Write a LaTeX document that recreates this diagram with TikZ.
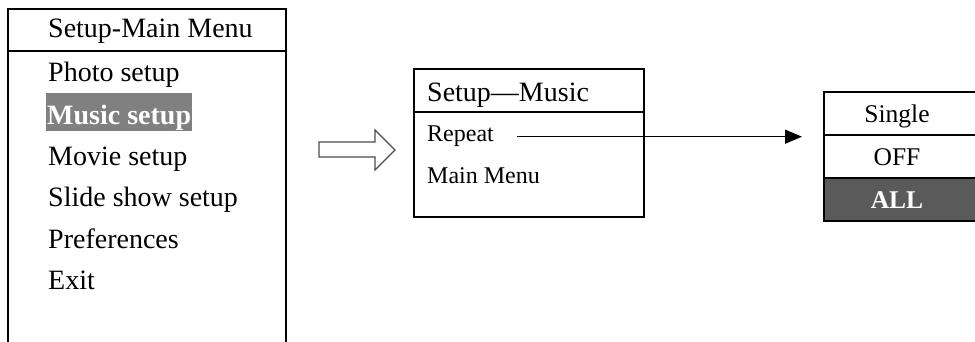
\documentclass[tikz,border=0pt]{standalone}
\usepackage{fontspec}
\setmainfont{Liberation Serif}
\usetikzlibrary{positioning, arrows.meta}
\definecolor{selgray}{HTML}{808080}
\definecolor{allgray}{HTML}{5A5A5A}
\tikzstyle{menubox} = [rectangle, draw, line width=1.6pt, anchor=north west,
                 inner sep=0pt]
\tikzstyle{rule} = [line width=1.6pt, draw]
\tikzset{
	item/.style={anchor=base west, inner sep=0pt, font=\fontsize{28}{30}\selectfont},
	subitem/.style={anchor=base west, inner sep=0pt, font=\fontsize{24}{26}\selectfont},
	option/.style={anchor=base, inner sep=0pt, font=\fontsize{25.5}{27}\selectfont},
	highlight/.style={fill=selgray, text=white, inner xsep=1pt,
		text height=32pt, text depth=6pt},
	pointer/.style={line width=1.5pt, -{Triangle[length=17pt, width=14pt]}},
}

\begin{document}
\begin{tikzpicture}[x=1pt, y=-1pt]

\useasboundingbox (0,0) rectangle (975,342);
\clip (0,0) rectangle (975,342);

% main menu
\node [menubox, minimum width=278pt, minimum height=370pt] (mainbox) at (7,8) {};
\path [rule] (7,51) -- (287,51);
\node [item] (maintitle) at (48,38) {Setup-Main Menu};
\foreach \y/\name/\label in {82/photo/Photo setup, 165/movie/Movie setup,
	206.5/slide/Slide show setup, 248/prefs/Preferences, 289.5/exit/Exit}
	\node [item] (\name) at (48,\y) {\label};
\node [item, highlight] (music) at (46,125) {\bfseries Music setup};

% hollow arrow
\path [draw, line width=1.1pt, draw=black!70] (319,142) -- (375,142) -- (375,130)
	-- (395,150) -- (375,170) -- (375,157) -- (319,157) -- cycle;

% music menu
\node [menubox, minimum width=230pt, minimum height=148pt] (musicbox) at (413,68) {};
\path [rule] (413,112) -- (643,112);
\node [item] (musictitle) at (427,102) {Setup—Music};
\node [subitem] (repeat) at (427,142) {Repeat};
\node [subitem] (mainmenu) at (427,183) {Main Menu};

% repeat options
\node [menubox, minimum width=170pt, minimum height=43pt] (singlecell) at (823,91) {};
\node [menubox, minimum width=170pt, minimum height=43pt] (offcell) at (823,134) {};
\node [menubox, minimum width=170pt, minimum height=43pt, fill=allgray] (allcell) at (823,177) {};
\node [option] (single) at (897,123) {Single};
\node [option] (off) at (897,165) {OFF};
\node [option, text=white] (all) at (897,208) {\bfseries ALL};

\draw [pointer] ([xshift=23pt]repeat.east) -- ([xshift=-21pt]repeat.east -| singlecell.west);

\end{tikzpicture}
\end{document}
